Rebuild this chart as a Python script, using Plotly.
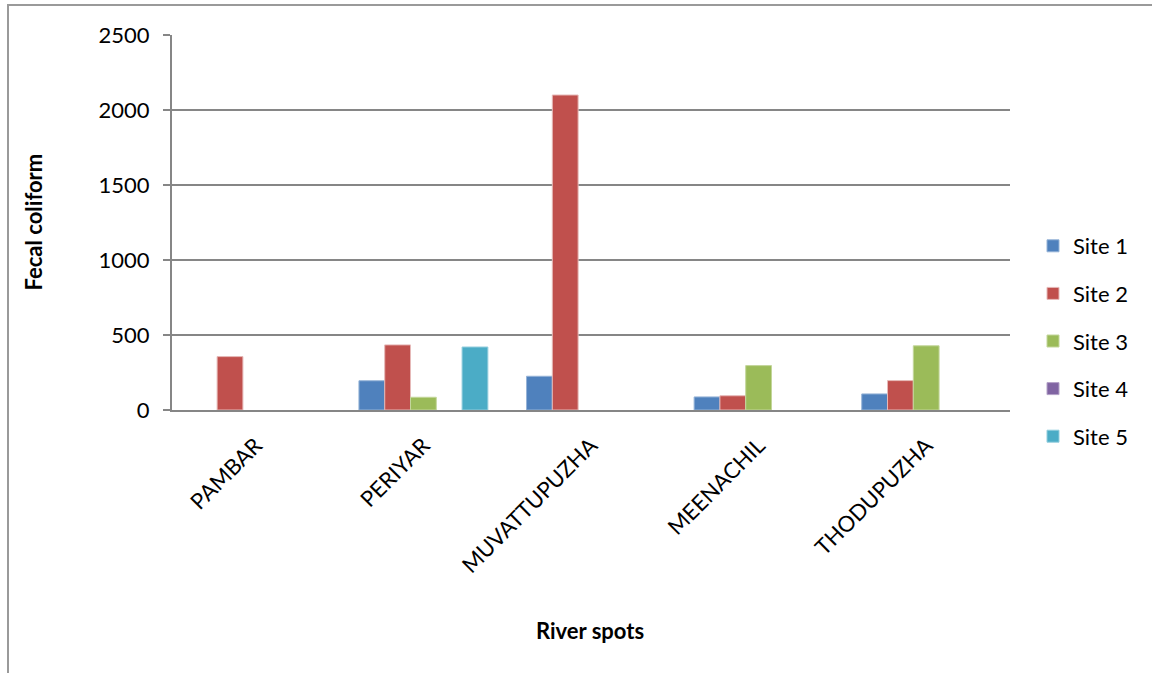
import plotly.graph_objects as go

# River sampling spots and fecal coliform counts per site
rivers = ["PAMBAR", "PERIYAR", "MUVATTUPUZHA", "MEENACHIL", "THODUPUZHA"]
site_names = ["Site 1", "Site 2", "Site 3", "Site 4", "Site 5"]
site1 = [None, 195, 225, 87, 107]
site2 = [356, 434, 2100, 95, 196]
site3 = [None, 85, None, 296, 428]
site4 = [None, None, None, None, None]
site5 = [None, 420, None, None, None]
site_colors = ["#4F81BD", "#C0504D", "#9BBB59", "#8064A2", "#4BACC6"]
edge_colors = ["#95B3D7", "#E6B9B8", "#C3D69B", "#B3A2C7", "#93CDDD"]

y_ticks = [0, 500, 1000, 1500, 2000, 2500]

FONT = "Lato, 'Open Sans', sans-serif"
GRID = "#868686"

fig = go.Figure()
for i, (name, vals) in enumerate(zip(site_names, [site1, site2, site3, site4, site5])):
    fig.add_trace(go.Bar(
        x=rivers, y=vals, name=name, legendgroup=name,
        marker=dict(color=site_colors[i], line=dict(color=edge_colors[i], width=1)),
    ))

W, H = 1152, 673
L, R, T, B = 172, 1010, 35, 410
pw, ph = R - L, B - T

fig.update_layout(
    width=W, height=H,
    margin=dict(l=L, r=W - R, t=T, b=H - B),
    paper_bgcolor="white", plot_bgcolor="white",
    barmode="group", bargap=1.5 / 6.5, bargroupgap=0,
    font=dict(family=FONT, size=22, color="black"),
    showlegend=True,
    legend=dict(
        x=(1033 - L) / pw, xanchor="left",
        y=(B - 341) / ph, yanchor="middle",
        font=dict(family=FONT, size=22, color="black"),
        tracegroupgap=16, itemwidth=30,
        bgcolor="rgba(0,0,0,0)",
    ),
    xaxis=dict(
        showline=True, linecolor=GRID, linewidth=2,
        tickangle=-45, ticks="", showgrid=False,
        ticklabelstandoff=12,
        tickfont=dict(family=FONT, size=22),
    ),
    yaxis=dict(
        range=[0, 2500], tickvals=y_ticks,
        showline=True, linecolor=GRID, linewidth=2,
        ticks="outside", ticklen=7, tickcolor=GRID, tickwidth=2,
        showgrid=True, gridcolor=GRID, gridwidth=2,
        zeroline=False, ticklabelstandoff=9,
        tickfont=dict(family=FONT, size=22),
    ),
    annotations=[
        dict(text="<b>Fecal coliform</b>", xref="paper", yref="paper",
             x=(33 - L) / pw, y=0.5, textangle=-90, showarrow=False,
             xanchor="center", yanchor="middle",
             font=dict(family=FONT, size=22, color="black")),
        dict(text="<b>River spots</b>", xref="paper", yref="paper",
             x=(590 - L) / pw, y=(B - 630) / ph, showarrow=False,
             xanchor="center", yanchor="middle",
             font=dict(family=FONT, size=22, color="black")),
    ],
    shapes=[
        dict(type="rect", xref="paper", yref="paper",
             x0=(8 - L) / pw, x1=(1170 - L) / pw,
             y0=(B - 700) / ph, y1=(B - 5) / ph,
             line=dict(color="#9a9a9a", width=2), fillcolor="rgba(0,0,0,0)",
             layer="below"),
    ],
)

fig.write_html("out.html")
